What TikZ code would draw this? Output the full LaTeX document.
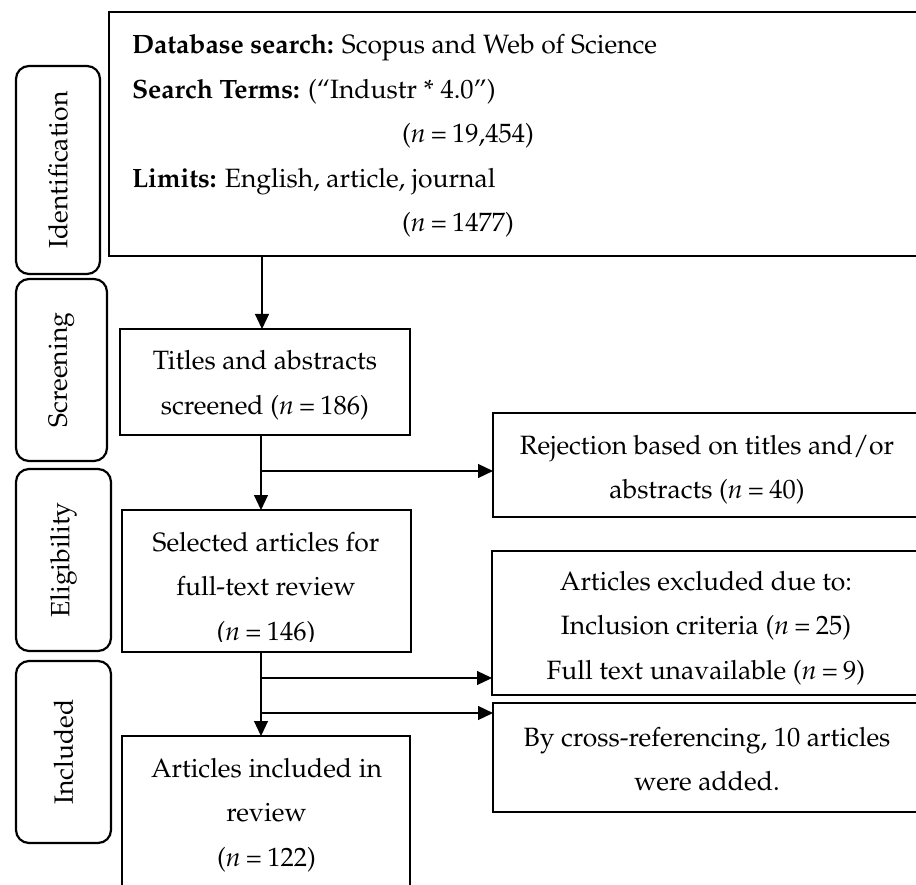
\documentclass[tikz,border=0pt]{standalone}
\usepackage[T1]{fontenc}
\usepackage{mathpazo}
\usetikzlibrary{arrows.meta}
\newcommand{\nEq}[1]{(\textit{n}\hspace{0.2em}=\hspace{0.2em}#1)}
\begin{document}
\begin{tikzpicture}[x=1pt,y=-1pt,
  every node/.style={font=\fontsize{26.5}{44.5}\selectfont, inner sep=0pt, outer sep=0pt},
  box/.style={draw, line width=2.2pt},
  txt/.style={align=center},
  stage/.style={draw, line width=2.2pt, rounded corners=13pt, rotate=90},
  ln/.style={line width=1.2pt},
  arr/.style={line width=1.2pt, -{Triangle[length=15pt,width=14pt]}}]
\useasboundingbox (0,0) rectangle (916,885);
\clip (0,0) rectangle (916,885);

% stage labels
\node[stage, minimum width=208pt, minimum height=84pt] (sid) at (58,170) {Identification};
\node[stage, minimum width=182pt, minimum height=91pt] (ssc) at (61.5,370) {Screening};
\node[stage, minimum width=182pt, minimum height=95pt] (sel) at (63.5,560) {Eligibility};
\node[stage, minimum width=182pt, minimum height=95pt] (sin) at (63.5,752) {Included};

% top box
\node[box, minimum width=816pt, minimum height=244pt] (top) at (517,134) {};
\node[anchor=west, align=left] (ttop) at (132,136) {\textbf{Database search:} Scopus and Web of Science\\
\textbf{Search Terms:} (``Industr * 4.0'')\\
\hspace*{270pt}\nEq{19,454}\\
\textbf{Limits:} English, article, journal\\
\hspace*{270pt}\nEq{1477}};

% main column
\node[box, minimum width=290pt, minimum height=106pt] (titles) at (265,382) {};
\node[txt] (ttitles) at (265,385) {Titles and abstracts\\ screened \nEq{186}};

\node[box, minimum width=289pt, minimum height=142pt] (selected) at (266.5,581) {};
\node[txt] (tselected) at (266,589) {Selected articles for\\ full-text review\\ \nEq{146}};
\fill[white] (124,641.5) rectangle (409,650.6);

\node[box, minimum width=288pt, minimum height=158pt] (final) at (266,815) {};
\node[txt] (tfinal) at (266.5,815) {Articles included in\\ review\\ \nEq{122}};

% right column
\node[box, minimum width=428pt, minimum height=104pt] (rej) at (707,465) {};
\node[txt] (trej) at (707,469.5) {Rejection based on titles and/or\\ abstracts \nEq{40}};

\node[box, minimum width=429pt, minimum height=144pt] (excl) at (706.5,623) {};
\node[txt] (texcl) at (706,628) {Articles excluded due to:\\ Inclusion criteria \nEq{25}\\ Full text unavailable \nEq{9}};

\node[box, minimum width=428pt, minimum height=109pt] (cross) at (707,757.5) {};
\node[txt] (tcross) at (707,759) {By cross-referencing, 10 articles\\ were added.};

% connectors
\draw[arr] ([xshift=-3pt]titles.north |- top.south) -- ([xshift=-3pt]titles.north);
\draw[arr] ([xshift=-4pt]titles.south) -- ([xshift=-4pt]titles.south |- selected.north);
\coordinate (b1) at (261,471);
\draw[arr] (b1) -- (b1 -| rej.west);
\draw[arr] ([xshift=-5.5pt]selected.south) -- ([xshift=-5.5pt]selected.south |- final.north);
\coordinate (b2) at (261,678);
\coordinate (b3) at (261,713);
\draw[arr] (b2) -- (b2 -| excl.west);
\draw[arr] (b3) -- (b3 -| cross.west);
\end{tikzpicture}
\end{document}
